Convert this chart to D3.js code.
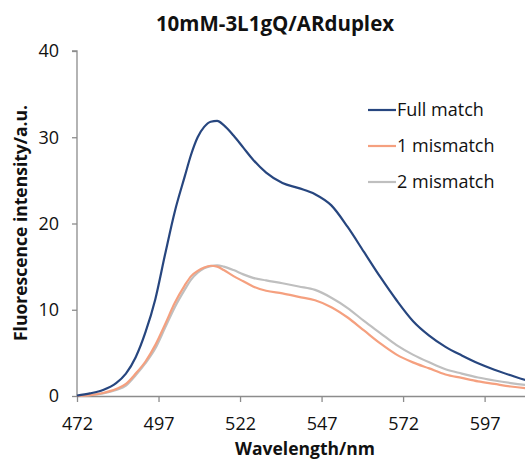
<!DOCTYPE html>
<html>
<head>
<meta charset="utf-8">
<script src="https://cdn.jsdelivr.net/npm/d3@7"></script>
<style>
  body { margin: 0; background: #fff; }
  text { font-family: "Open Sans", "Noto Sans", sans-serif; fill: #111; }
</style>
</head>
<body>
<div id="chart"></div>
<script>
// wavelength (nm) sample points
const wavelengths = [472, 476, 480, 484, 487, 490, 493, 496, 499, 502, 505, 507, 509, 511, 513, 515, 517, 520, 523, 526, 530, 535, 540, 545, 550, 555, 560, 565, 570, 575, 580, 585, 590, 595, 600, 605, 610, 615];

const fullMatch = [0.05, 0.3, 0.7, 1.5, 2.6, 4.5, 7.4, 11.2, 16.4, 21.4, 25.4, 28.0, 30.0, 31.2, 31.8, 31.9, 31.4, 30.2, 28.8, 27.4, 25.9, 24.7, 24.1, 23.4, 22.1, 19.6, 16.7, 13.8, 11.1, 8.7, 7.0, 5.7, 4.7, 3.8, 3.05, 2.4, 1.8, 1.4];
const mismatch1 = [0.02, 0.1, 0.35, 0.8, 1.4, 2.6, 4.0, 5.9, 8.3, 10.8, 12.8, 13.9, 14.5, 14.9, 15.1, 15.0, 14.6, 13.9, 13.3, 12.7, 12.2, 11.9, 11.5, 11.1, 10.3, 9.1, 7.6, 6.1, 4.8, 3.9, 3.2, 2.5, 2.1, 1.7, 1.4, 1.1, 0.88, 0.72];
const mismatch2 = [0.02, 0.1, 0.3, 0.7, 1.2, 2.4, 3.8, 5.5, 7.9, 10.3, 12.3, 13.5, 14.3, 14.8, 15.05, 15.15, 15.0, 14.6, 14.1, 13.7, 13.4, 13.07, 12.7, 12.3, 11.4, 10.2, 8.7, 7.3, 5.9, 4.8, 3.9, 3.1, 2.6, 2.15, 1.8, 1.5, 1.25, 1.05];

const seriesNames = ["Full match", "1 mismatch", "2 mismatch"];
const xTicks = [472, 497, 522, 547, 572, 597];
const yTicks = [0, 10, 20, 30, 40];

const width = 525, height = 460;
const plot = { left: 77, right: 527, top: 51, bottom: 396 };

const svg = d3.select("#chart")
  .append("svg")
  .attr("width", width)
  .attr("height", height);

const x = d3.scaleLinear().domain([472, 610]).range([plot.left, plot.right]);
const y = d3.scaleLinear().domain([0, 40]).range([plot.bottom, plot.top]);

// title
svg.append("text")
  .attr("x", 275)
  .attr("y", 31)
  .attr("text-anchor", "middle")
  .style("font-size", "20.5px")
  .style("font-weight", "bold")
  .text("10mM-3L1gQ/ARduplex");

// axes
const axisColor = "#8c8c8c";
const yAxis = svg.append("g")
  .attr("transform", `translate(${plot.left},0)`)
  .call(d3.axisLeft(y).tickValues(yTicks).tickSize(5).tickPadding(13));
const xAxis = svg.append("g")
  .attr("transform", `translate(0,${plot.bottom})`)
  .call(d3.axisBottom(x).tickValues(xTicks).tickSize(6).tickSizeOuter(0).tickPadding(15));

[xAxis, yAxis].forEach((g) => {
  g.select(".domain").attr("stroke", axisColor).attr("stroke-width", 1.3);
  g.selectAll(".tick line").attr("stroke", axisColor).attr("stroke-width", 1.3);
  g.selectAll("text")
    .style("font-family", "'Open Sans', sans-serif")
    .style("font-size", "18px")
    .attr("fill", "#111");
});
yAxis.select(".domain").attr("d", `M-5,${plot.top}H0V${plot.bottom}`);

// axis titles
svg.append("text")
  .attr("x", 305)
  .attr("y", 455)
  .attr("text-anchor", "middle")
  .style("font-size", "17.5px")
  .style("font-weight", "bold")
  .text("Wavelength/nm");

svg.append("text")
  .attr("transform", "translate(27,223) rotate(-90)")
  .attr("text-anchor", "middle")
  .style("font-size", "17.5px")
  .style("font-weight", "bold")
  .text("Fluorescence intensity/a.u.");

// lines
const colors = ["#27467f", "#f5a07f", "#bfbfbf"];
const allSeries = [mismatch2, mismatch1, fullMatch];
const order = [2, 1, 0];

const line = d3.line()
  .x((d, i) => x(wavelengths[i]))
  .y((d) => y(d))
  .curve(d3.curveMonotoneX);

allSeries.forEach((vals, k) => {
  svg.append("path")
    .datum(vals)
    .attr("fill", "none")
    .attr("stroke", colors[order[k]])
    .attr("stroke-width", 2.2)
    .attr("stroke-linejoin", "round")
    .attr("d", line);
});

// legend
const legend = svg.append("g");
seriesNames.forEach((name, i) => {
  const ly = 110 + i * 36;
  legend.append("line")
    .attr("x1", 368).attr("x2", 396)
    .attr("y1", ly).attr("y2", ly)
    .attr("stroke", colors[i])
    .attr("stroke-width", 2.2);
  legend.append("text")
    .attr("x", 397)
    .attr("y", ly + 6)
    .style("font-size", "18px")
    .text(name);
});
</script>
</body>
</html>
